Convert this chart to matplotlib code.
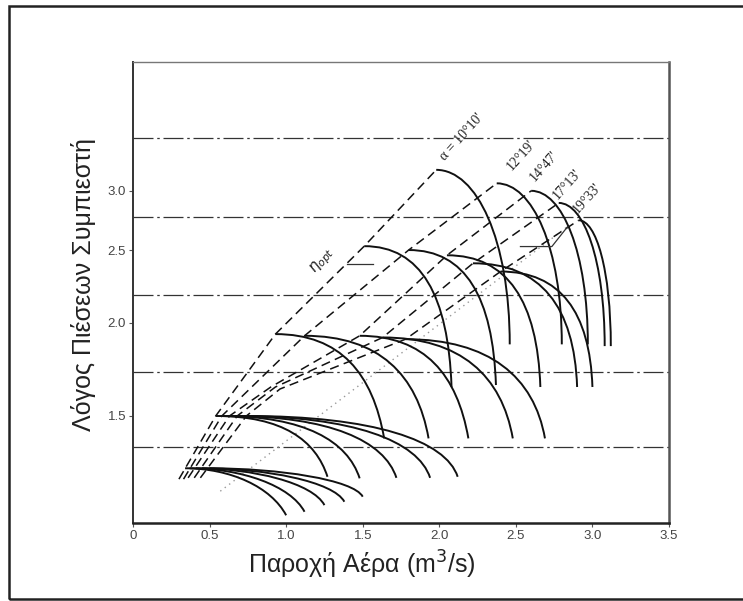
import numpy as np
import matplotlib
matplotlib.use("Agg")
import matplotlib.pyplot as plt
from matplotlib.path import Path
from matplotlib.patches import PathPatch, Rectangle

# ---------------- data ----------------
alpha_labels = ["α = 10°10'", "12°19'", "14°47'", "17°13'", "19°33'"]
label_x = [2.05, 2.49, 2.64, 2.79, 2.92]
label_y = [3.27, 3.17, 3.06, 2.90, 2.78]

# speed lines: one row per speed level, one entry per angle α
start_x = [
    [0.34, 0.37, 0.41, 0.45, 0.50],
    [0.54, 0.58, 0.63, 0.68, 0.74],
    [0.93, 1.12, 1.48, 1.63, 1.78],
    [1.51, 1.80, 2.05, 2.22, 2.40],
    [1.98, 2.375, 2.60, 2.78, 2.91],
]
peak_y = [
    [1.277, 1.277, 1.277, 1.277, 1.277],
    [1.50, 1.50, 1.50, 1.50, 1.50],
    [1.93, 1.92, 1.92, 1.91, 1.90],
    [2.53, 2.50, 2.46, 2.40, 2.34],
    [3.20, 3.07, 3.00, 2.89, 2.74],
]
end_x = [
    [1.00, 1.12, 1.25, 1.38, 1.50],
    [1.27, 1.48, 1.72, 1.94, 2.12],
    [1.64, 1.93, 2.19, 2.48, 2.69],
    [2.08, 2.37, 2.66, 2.90, 3.00],
    [2.46, 2.80, 2.97, 3.08, 3.12],
]
end_y = [
    [1.105, 1.117, 1.14, 1.152, 1.17],
    [1.244, 1.238, 1.24, 1.24, 1.244],
    [1.40, 1.40, 1.40, 1.40, 1.40],
    [1.64, 1.65, 1.64, 1.64, 1.64],
    [1.87, 1.87, 1.87, 1.86, 1.86],
]

# surge (dashed) lines, one per angle α
surge_x = [
    [0.30, 0.54, 0.93, 1.51, 1.98],
    [0.33, 0.58, 1.12, 1.80, 2.375],
    [0.36, 0.63, 0.90, 1.48, 2.05, 2.60],
    [0.40, 0.68, 0.93, 1.63, 2.22, 2.78],
    [0.44, 0.74, 0.96, 1.78, 2.40, 2.91],
]
surge_y = [
    [1.235, 1.50, 1.93, 2.53, 3.20],
    [1.235, 1.50, 1.92, 2.50, 3.07],
    [1.24, 1.50, 1.64, 1.92, 2.46, 3.00],
    [1.24, 1.50, 1.64, 1.91, 2.40, 2.89],
    [1.24, 1.50, 1.63, 1.90, 2.34, 2.74],
]

# optimum efficiency locus (faint dotted) and its leaders
eta_x = [0.57, 2.84]
eta_y = [1.19, 2.69]
eta_leader_x = [1.395, 1.57]
eta_leader_y = [2.396, 2.396]
eta_leader2_x = [2.53, 2.735, 2.84]
eta_leader2_y = [2.527, 2.527, 2.69]

# background dash-dot rules
rule_y = [1.363, 1.72, 2.18, 2.77, 3.53]

x_ticks = [0, 0.5, 1.0, 1.5, 2.0, 2.5, 3.0, 3.5]
x_tick_labels = ["0", "0.5", "1.0", "1.5", "2.0", "2.5", "3.0", "3.5"]
y_ticks = [1.5, 2.0, 2.5, 3.0]
y_tick_labels = ["1.5", "2.0", "2.5", "3.0"]

# ---------------- figure ----------------
W_PX, H_PX = 743, 601
fig = plt.figure(figsize=(W_PX / 100, H_PX / 100), dpi=100)
fig.patch.set_facecolor("white")

ax_l, ax_r, ax_t, ax_b = 133, 669, 62, 523
ax = fig.add_axes([ax_l / W_PX, 1 - ax_b / H_PX, (ax_r - ax_l) / W_PX, (ax_b - ax_t) / H_PX])
ax.set_yscale("log")
ax.set_xlim(0, 3.5)
ax.set_ylim(1.079, 4.46)
ax.minorticks_off()
ax.set_xticks(x_ticks)
ax.set_xticklabels(x_tick_labels)
ax.set_yticks(y_ticks)
ax.set_yticklabels(y_tick_labels)
ax.tick_params(axis="both", direction="out", length=3, width=0.8, colors="#555",
               labelsize=9.5, labelcolor="#444", pad=2)
for lab in ax.get_xticklabels() + ax.get_yticklabels():
    lab.set_family("Liberation Sans")

for side, lw, col in [("left", 1.4, "#333"), ("bottom", 1.8, "#222"),
                      ("right", 1.8, "#555"), ("top", 1.0, "#777")]:
    ax.spines[side].set_linewidth(lw)
    ax.spines[side].set_color(col)

for ry in rule_y:
    ax.axhline(ry, color="#333", lw=0.9, ls=(0, (16, 3, 2, 3)), zorder=1)

# speed-line shape per level: (flat fraction, drop fraction, end angle deg)
level_shape = [(0.45, 0.6, 62), (0.6, 0.6, 72), (0.6, 0.62, 80), (0.65, 0.65, 88), (0.55, 0.6, 90)]

axW = ax_r - ax_l
axH = ax_b - ax_t
to_axes = ax.transData + ax.transAxes.inverted()

for lev in range(5):
    a, b, ang = level_shape[lev]
    for i in range(5):
        (u0, v0), (u3, v3) = to_axes.transform([(start_x[lev][i], peak_y[lev][i]),
                                                 (end_x[lev][i], end_y[lev][i])])
        p1 = (u0 + a * (u3 - u0), v0)
        dv = b * (v0 - v3)
        du = dv * axH / axW / np.tan(np.radians(ang))
        p2 = (u3 - du, v3 + dv)
        path = Path([(u0, v0), p1, p2, (u3, v3)],
                    [Path.MOVETO, Path.CURVE4, Path.CURVE4, Path.CURVE4])
        ax.add_patch(PathPatch(path, transform=ax.transAxes, fill=False,
                               lw=1.4, ec="#111", zorder=3))

for i in range(5):
    ax.plot(surge_x[i], surge_y[i], color="#111", lw=1.1, ls=(0, (6, 3.5)), zorder=3)
    ax.text(label_x[i], label_y[i], alpha_labels[i], rotation=48, rotation_mode="anchor",
            ha="left", va="bottom", fontsize=10, family="Liberation Serif", color="#222")

ax.plot(eta_x, eta_y, color="#999", lw=1.0, ls=(0, (1, 3)), zorder=2)
ax.plot(eta_leader_x, eta_leader_y, color="#333", lw=0.9, zorder=3)
ax.plot(eta_leader2_x, eta_leader2_y, color="#333", lw=0.9, zorder=3)
ax.text(1.24, 2.42, r"$\eta_{opt}$", rotation=50, ha="center", va="center",
        fontsize=11, color="#222")

ax.set_xlabel("Παροχή Αέρα (m$^3$/s)", fontsize=18, family="Liberation Sans", color="#222")
ax.xaxis.set_label_coords(0.426, -0.091)
ax.xaxis.label.set_va("center")
ax.set_ylabel("Λόγος Πιέσεων Συμπιεστή", fontsize=18, family="Liberation Sans", color="#222")
ax.yaxis.set_label_coords(-0.093, 0.518)
ax.yaxis.label.set_va("center")

# outer frame of the scanned page
fig.add_artist(Rectangle((9 / W_PX, 2 / H_PX), 1.2, (597 - 5) / H_PX + 1 / H_PX,
                         transform=fig.transFigure, fill=False, lw=1.8, ec="#222"))

fig.savefig("out.png", dpi=100, facecolor="white")
